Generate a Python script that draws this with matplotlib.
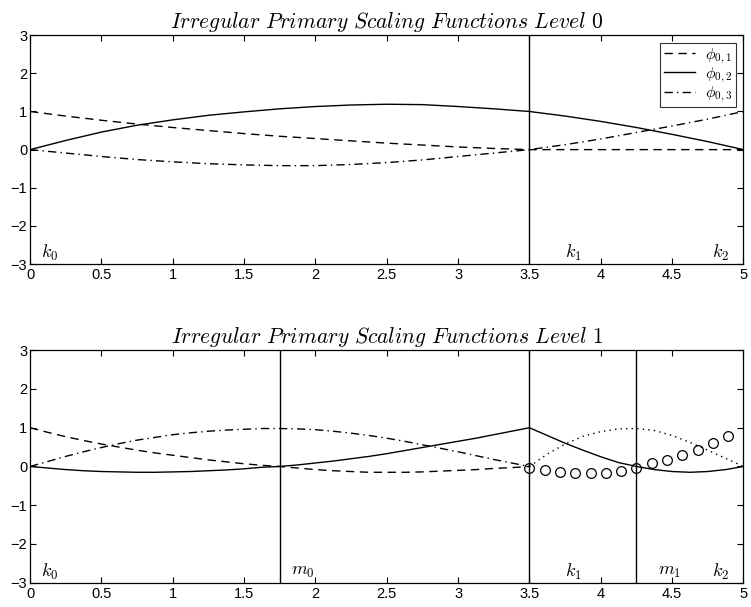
import numpy as np
import matplotlib
matplotlib.use("Agg")
import matplotlib.pyplot as plt

plt.rcParams['mathtext.fontset'] = 'cm'
plt.rcParams['font.family'] = ['Liberation Sans', 'DejaVu Sans']

# ------------------ DATA ------------------

# level 0 (sampled every 0.25)
x0 = [0.0, 0.25, 0.5, 0.75, 1.0, 1.25, 1.5, 1.75, 2.0, 2.25, 2.5, 2.75, 3.0, 3.25,
      3.5, 3.75, 4.0, 4.25, 4.5, 4.75, 5.0]
phi01 = [1.0, 0.88, 0.77, 0.67, 0.58, 0.50, 0.42, 0.35, 0.29, 0.23, 0.17, 0.12, 0.07, 0.03,
         0.0, 0.0, 0.0, 0.0, 0.0, 0.0, 0.0]
phi02 = [0.0, 0.24, 0.46, 0.64, 0.78, 0.90, 0.99, 1.07, 1.13, 1.17, 1.19, 1.18, 1.13, 1.07,
         1.0, 0.88, 0.74, 0.58, 0.40, 0.21, 0.0]
phi03 = [0.0, -0.09, -0.18, -0.26, -0.32, -0.37, -0.40, -0.42, -0.42, -0.39, -0.34, -0.27, -0.18, -0.09,
         0.0, 0.13, 0.28, 0.45, 0.62, 0.80, 1.0]

# level 1
x1a = [0.0, 0.125, 0.25, 0.375, 0.5, 0.625, 0.75, 0.875, 1.0, 1.125, 1.25, 1.375, 1.5, 1.625, 1.75,
       1.875, 2.0, 2.125, 2.25, 2.375, 2.5, 2.625, 2.75, 2.875, 3.0, 3.125, 3.25, 3.375, 3.5]
dash1 = [1.0, 0.88, 0.77, 0.67, 0.58, 0.50, 0.42, 0.35, 0.29, 0.23, 0.17, 0.12, 0.07, 0.03, 0.0,
         -0.04, -0.08, -0.11, -0.13, -0.15, -0.15, -0.15, -0.14, -0.12, -0.10, -0.08, -0.05, -0.03, 0.0]
dashdot1 = [0.0, 0.13, 0.26, 0.38, 0.49, 0.59, 0.68, 0.75, 0.82, 0.87, 0.91, 0.94, 0.96, 0.98, 0.98,
            0.97, 0.95, 0.91, 0.86, 0.80, 0.73, 0.65, 0.56, 0.47, 0.38, 0.28, 0.18, 0.09, 0.0]
x1b = [3.5, 3.625, 3.75, 3.875, 4.0, 4.125, 4.25, 4.375, 4.5, 4.625, 4.75, 4.875, 5.0]
solid1_a = [0.0, -0.04, -0.08, -0.11, -0.13, -0.14, -0.15, -0.15, -0.14, -0.13, -0.11, -0.09, -0.06,
            -0.02, 0.0, 0.04, 0.09, 0.14, 0.20, 0.26, 0.33, 0.41, 0.49, 0.57, 0.65, 0.73, 0.82, 0.91, 1.0]
solid1_b = [1.0, 0.80, 0.60, 0.42, 0.25, 0.10, 0.0, -0.08, -0.13, -0.15, -0.13, -0.08, 0.0]
dot1 = [0.0, 0.32, 0.58, 0.78, 0.90, 0.97, 0.98, 0.93, 0.80, 0.62, 0.42, 0.21, 0.0]

# circles
xc = [3.5, 3.607, 3.714, 3.821, 3.929, 4.036, 4.143, 4.25, 4.357, 4.464, 4.571, 4.679, 4.786, 4.893]
yc = [-0.03, -0.09, -0.13, -0.16, -0.17, -0.16, -0.12, -0.03, 0.08, 0.18, 0.30, 0.43, 0.60, 0.79]

knots0 = [3.5]
knots1 = [1.75, 3.5, 4.25]

labels0 = [(0.08, r'$k_0$'), (3.75, r'$k_1$'), (4.78, r'$k_2$')]
labels1 = [(0.08, r'$k_0$'), (1.83, r'$m_0$'), (3.75, r'$k_1$'), (4.4, r'$m_1$'), (4.78, r'$k_2$')]

# ------------------ PLOT ------------------

fig = plt.figure(figsize=(7.51, 6.07), dpi=100)
ax0 = fig.add_axes([0.040, 0.565, 0.950, 0.377])
ax1 = fig.add_axes([0.040, 0.040, 0.950, 0.383])

lw = 1.0
ax0.plot(x0, phi01, 'k--', lw=lw, dashes=(6, 4), label=r'$\phi_{0,1}$')
ax0.plot(x0, phi02, 'k-', lw=lw, label=r'$\phi_{0,2}$')
ax0.plot(x0, phi03, 'k-.', lw=lw, dashes=(6, 3, 1, 3), label=r'$\phi_{0,3}$')

ax1.plot(x1a, dash1, 'k--', lw=lw, dashes=(6, 4))
ax1.plot(x1a, dashdot1, 'k-.', lw=lw, dashes=(6, 3, 1, 3))
ax1.plot(x1a, solid1_a, 'k-', lw=lw)
ax1.plot(x1b, solid1_b, 'k-', lw=lw)
ax1.plot(x1b, dot1, 'k:', lw=lw, dashes=(1, 3))
ax1.plot(xc, yc, 'o', mfc='none', mec='k', ms=7, mew=0.9)

for ax, knots, labs, title in [(ax0, knots0, labels0, 'Level 0'), (ax1, knots1, labels1, 'Level 1')]:
    for k in knots:
        ax.axvline(k, color='k', lw=1.0)
    for xx, s in labs:
        ax.text(xx, -2.72, s, fontsize=13, ha='left', va='center')
    ax.set_xlim(0, 5)
    ax.set_ylim(-3, 3)
    ax.set_xticks(np.arange(0, 5.01, 0.5))
    ax.set_xticklabels(['0', '0.5', '1', '1.5', '2', '2.5', '3', '3.5', '4', '4.5', '5'])
    ax.set_yticks(range(-3, 4))
    ax.tick_params(direction='in', top=True, right=True, labelsize=10.5, length=4, width=0.8)
    ax.tick_params(axis='y', pad=2)
    ax.tick_params(axis='x', pad=3)
    for sp in ax.spines.values():
        sp.set_linewidth(0.9)
    ax.set_title(r'$\mathit{Irregular\ Primary\ Scaling\ Functions\ ' + title.replace(' ', r'\ ') + '}$',
                 fontsize=15.5, pad=5)

leg = ax0.legend(loc='upper right', fontsize=11.5, frameon=True, fancybox=False, edgecolor='k',
                 handlelength=2.0, labelspacing=0.0, borderpad=0.2, borderaxespad=0.5,
                 handletextpad=0.6)
leg.get_frame().set_linewidth(0.8)

fig.savefig('out.png', dpi=100)
